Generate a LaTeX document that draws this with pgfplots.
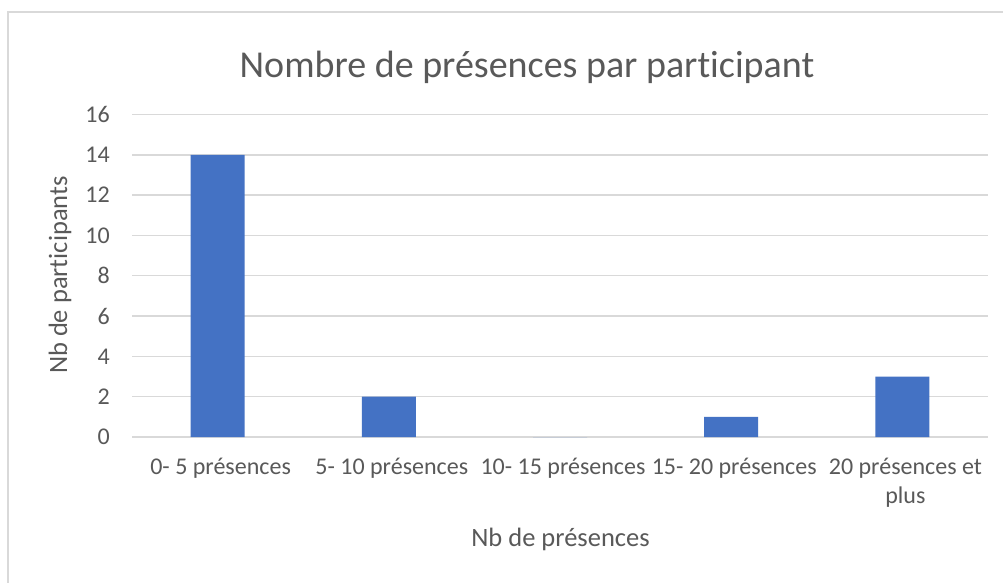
\documentclass[border=0pt]{standalone}
\usepackage{fontspec}
\setmainfont{Carlito}[Ligatures=CommonOff]
\usepackage{pgfplots}
\pgfplotsset{compat=1.18}

\definecolor{txt}{HTML}{595959}
\definecolor{gridc}{HTML}{D9D9D9}
\definecolor{barc}{HTML}{4472C4}

\begin{document}
\begin{tikzpicture}[x=1pt,y=1pt]
\path[use as bounding box] (0,0) rectangle (1003,582);
\fill[white] (0,0) rectangle (1003,582);
\draw[gridc, line width=2pt] (7.5,-5) -- (7.5,569.5) -- (1010,569.5);
\begin{axis}[
    at={(132pt,145pt)}, anchor=south west,
    scale only axis, width=856pt, height=322.5pt,
    xmin=-0.5, xmax=4.5, ymin=0, ymax=16,
    ymajorgrids, grid style={gridc, line width=1.4pt},
    ytick={0,2,...,16},
    xtick={0,1,2,3,4},
    xticklabels={0- 5 présences, 5- 10 présences, 10- 15 présences, 15- 20 présences, 20 présences et\\plus},
    major tick length=0pt,
    tick label style={text=txt, font=\fontsize{24}{29}\selectfont},
    /pgf/number format/assume math mode=true,
    xticklabel style={anchor=north, inner sep=0pt, yshift=-21pt, xshift=3pt, align=center},
    yticklabel style={anchor=east, inner sep=0pt, xshift=-22pt},
    x axis line style={draw=none}, y axis line style={draw=none},
    title={Nombre de présences par participant},
    title style={at={(axis description cs:0.4614,1.127)}, anchor=center, text=txt, font=\fontsize{38}{44}\selectfont},
    xlabel={Nb de présences},
    xlabel style={at={(axis description cs:0.5006,-0.319)}, anchor=center, text=txt, font=\fontsize{26.5}{32}\selectfont},
    ylabel={Nb de participants},
    ylabel style={at={(axis description cs:-0.0841,0.502)}, anchor=center, text=txt, font=\fontsize{26.5}{32}\selectfont},
]
\addplot[ybar, bar width=54pt, fill=barc, draw=none] coordinates {
    (0,14) (1,2) (2,0) (3,1) (4,3)};
\end{axis}
\end{tikzpicture}
\end{document}
